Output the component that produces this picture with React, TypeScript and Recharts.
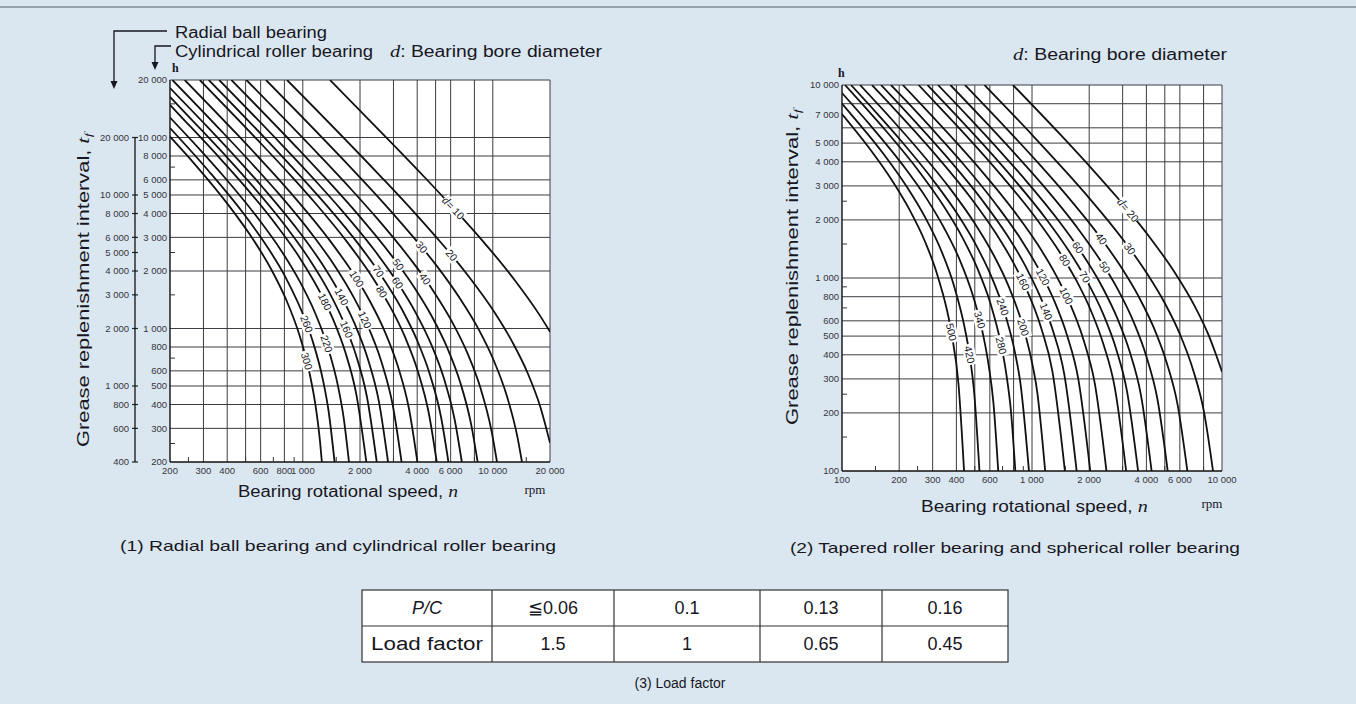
import React from 'react';
import { LineChart, Line, XAxis, YAxis, CartesianGrid, ReferenceDot } from 'recharts';

const FONT = '"Liberation Sans", Arial, Helvetica, sans-serif';
const SERIF = '"Liberation Serif", "Times New Roman", serif';
const INK = '#17171f';
const BG = '#dbe7f0';

// (1) radial ball bearing and cylindrical roller bearing
// points are [rpm, hours read on the cylindrical roller scale]
const ballBore = [10, 20, 30, 40, 50, 60, 70, 80, 100, 120, 140, 160, 180, 220, 260, 300];
const ballCurves = [
  [[1390, 20000], [3000, 9150], [4350, 6230], [6200, 4270], [8700, 2930], [13050, 1790], [17400, 1200], [20000, 962]],
  [[826, 20000], [2545, 6320], [3817, 4100], [5090, 2970], [6075, 2420], [7630, 1820], [10180, 1220], [12720, 844], [15270, 583], [17810, 387], [20000, 252]],
  [[640, 20000], [1680, 7430], [2522, 4816], [3360, 3490], [4224, 2670], [5045, 2140], [6730, 1430], [8410, 992], [10090, 684], [11770, 454], [13450, 273], [14240, 200]],
  [[505, 20000], [1227, 8040], [1841, 5215], [2454, 3780], [3682, 2310], [4400, 1820], [4909, 1550], [6136, 1074], [7363, 741], [8590, 492], [9818, 295], [10520, 200]],
  [[421, 20000], [962, 8550], [1443, 5546], [1924, 4020], [2886, 2460], [3180, 2165], [3848, 1650], [4811, 1142], [5773, 788], [6735, 523], [7697, 314], [8320, 200]],
  [[363, 20000], [789, 8990], [1184, 5829], [1578, 4230], [2367, 2590], [3156, 1734], [3945, 1200], [4734, 828], [5523, 550], [6312, 330], [6870, 200]],
  [[320, 20000], [667, 9380], [1000, 6083], [1334, 4410], [2001, 2700], [2500, 1990], [3335, 1253], [4002, 864], [4669, 573], [5336, 345], [5840, 200]],
  [[287, 20000], [576, 9740], [865, 6317], [1153, 4580], [1729, 2800], [2305, 1880], [2600, 1554], [2882, 1301], [3458, 898], [4034, 596], [4610, 358], [5070, 200]],
  [[239, 20000], [453, 10340], [679, 6703], [905, 4860], [1358, 2970], [1921, 1820], [2263, 1380], [2716, 952], [3168, 632], [3621, 380], [4010, 200]],
  [[206, 20000], [371, 10870], [557, 7046], [743, 5110], [1114, 3130], [1486, 2100], [1857, 1451], [2125, 1112], [2600, 664], [2971, 399], [3310, 200]],
  [[200, 18160], [314, 11400], [471, 7390], [627, 5360], [941, 3280], [1255, 2200], [1601, 1465], [1882, 1050], [2196, 697], [2510, 419], [2810, 200]],
  [[200, 16300], [272, 11820], [409, 7664], [545, 5560], [818, 3400], [1090, 2280], [1363, 1578], [1702, 990], [1908, 722], [2180, 434], [2450, 200]],
  [[200, 14800], [239, 12270], [359, 7955], [479, 5770], [718, 3530], [957, 2370], [1309, 1379], [1436, 1130], [1675, 750], [1914, 451], [2160, 200]],
  [[200, 12720], [289, 8590], [385, 6230], [577, 3810], [770, 2555], [962, 1769], [1155, 1220], [1336, 831], [1540, 487], [1636, 348], [1750, 200]],
  [[200, 11210], [321, 6640], [482, 4060], [643, 2720], [804, 1886], [1049, 1056], [1125, 864], [1286, 519], [1366, 371], [1470, 200]],
  [[200, 10100], [274, 7130], [411, 4360], [548, 2925], [685, 2025], [822, 1397], [959, 927], [1049, 675], [1096, 557], [1165, 399], [1233, 254], [1260, 200]],
];
// where each d label sits on its curve [rpm, hours]
const ballTagAt = [
  [6200, 4270], [6075, 2420], [4224, 2670], [4400, 1820], [3180, 2165], [3156, 1734],
  [2500, 1990], [2600, 1554], [1921, 1820], [2125, 1112], [1601, 1465], [1702, 990],
  [1309, 1379], [1336, 831], [1049, 1056], [1049, 675],
];
const ballTagAngle = [46, 50, 51, 55, 54, 57, 55, 59, 58, 65, 62, 67, 64, 71, 69, 74];

const ballRpmTicks = [200, 250, 300, 400, 500, 600, 700, 800, 900, 1000, 1500, 2000, 3000, 4000, 5000, 6000, 8000, 10000, 15000, 20000];
const ballRpmLabels = [200, 300, 400, 600, 800, 1000, 2000, 4000, 6000, 10000, 20000];
const ballRpmGrid = [300, 400, 500, 600, 800, 1000, 2000, 3000, 4000, 5000, 6000, 8000, 10000, 20000];
const rollerHourTicks = [200, 250, 300, 400, 500, 600, 700, 800, 1000, 1500, 2000, 2500, 3000, 4000, 5000, 6000, 7000, 8000, 10000, 15000, 20000];
const rollerHourLabels = [200, 300, 400, 500, 600, 800, 1000, 2000, 3000, 4000, 5000, 6000, 8000, 10000, 20000];
const ballHourLabels = [400, 600, 800, 1000, 2000, 3000, 4000, 5000, 6000, 8000, 10000, 20000];
const ballHourGrid = [300, 400, 500, 600, 800, 1000, 2000, 3000, 4000, 5000, 6000, 8000, 10000, 20000];

// (2) tapered roller bearing and spherical roller bearing
const taperBore = [20, 30, 40, 50, 60, 70, 80, 100, 120, 140, 160, 200, 240, 280, 340, 420, 500];
const taperCurves = [
  [[794, 10000], [1416, 5510], [2123, 3571], [2831, 2590], [3200, 2246], [4247, 1584], [5662, 1062], [7078, 735], [8494, 507], [10000, 327]],
  [[562, 10000], [1006, 5490], [1508, 3558], [2011, 2580], [3017, 1579], [3270, 1419], [4022, 1058], [5028, 733], [6033, 506], [7039, 335], [8044, 202], [8970, 100]],
  [[444, 10000], [730, 5980], [1095, 3877], [1460, 2810], [2317, 1597], [2920, 1153], [3651, 798], [4381, 551], [5111, 365], [5841, 220], [6572, 100]],
  [[372, 10000], [571, 6420], [857, 4161], [1143, 3020], [1714, 1846], [2413, 1139], [2857, 857], [3428, 591], [4000, 392], [4571, 236], [5180, 100]],
  [[320, 10000], [468, 6750], [702, 4373], [936, 3170], [1404, 1940], [1746, 1441], [2340, 901], [2807, 621], [3275, 412], [3743, 248], [4262, 100]],
  [[282, 10000], [396, 7030], [594, 4559], [791, 3305], [1187, 2023], [1583, 1356], [1894, 1014], [2374, 648], [2770, 430], [3165, 258], [3617, 100]],
  [[253, 10000], [341, 7320], [512, 4746], [682, 3440], [1024, 2106], [1486, 1237], [1706, 977], [2047, 674], [2388, 447], [2730, 269], [3130, 100]],
  [[209, 10000], [267, 7750], [401, 5027], [535, 3645], [802, 2230], [1070, 1495], [1337, 1035], [1515, 810], [1872, 474], [2139, 285], [2465, 100]],
  [[181, 10000], [219, 8215], [328, 5327], [438, 3862], [656, 2363], [875, 1584], [1142, 1012], [1313, 757], [1532, 502], [1750, 302], [2026, 100]],
  [[160.5, 10000], [185, 8626], [277, 5593], [370, 4056], [555, 2482], [740, 1664], [924, 1152], [1189, 671], [1294, 527], [1479, 317], [1718, 100]],
  [[143.8, 10000], [160, 8947], [240, 5801], [320, 4206], [480, 2574], [640, 1725], [800, 1195], [897, 956], [1120, 547], [1280, 329], [1490, 100]],
  [[124.4, 10000], [187.5, 6450], [250, 4676], [375, 2861], [500, 1918], [625, 1328], [750, 916], [900, 555], [1000, 365], [1063, 261], [1173, 100]],
  [[111.5, 10000], [153, 7110], [204, 5155], [306, 3154], [409, 2115], [511, 1464], [613, 1010], [703, 707], [817, 403], [868, 288], [964, 100]],
  [[103.7, 10000], [129, 7893], [172, 5723], [258, 3502], [344, 2348], [430, 1625], [516, 1121], [603, 744], [689, 447], [732, 320], [775, 204], [817, 100]],
  [[100, 9090], [139, 6284], [209, 3845], [279, 2578], [348, 1784], [418, 1231], [487.5, 817], [531, 606], [557, 491], [592, 351], [627, 224], [664, 100]],
  [[100, 8020], [110, 7170], [165.5, 4387], [220.6, 2941], [275.8, 2036], [331, 1405], [386, 932], [441, 560], [469, 401], [496, 256], [529, 100]],
  [[100, 7074], [136.8, 4811], [182.4, 3225], [228, 2233], [273.7, 1541], [319, 1022], [376, 525], [410.5, 280.5], [439, 100]],
];
const taperTagAt = [
  [3200, 2246], [3270, 1419], [2317, 1597], [2413, 1139], [1746, 1441], [1894, 1014],
  [1486, 1237], [1515, 810], [1142, 1012], [1189, 671], [897, 956], [900, 555],
  [703, 707], [689, 447], [531, 606], [469, 401], [376, 525],
];
const taperTagAngle = [50, 54, 54, 58, 56, 60, 58, 64, 62, 68, 64, 72, 70, 76, 74, 78, 77];

const taperRpmTicks = [100, 150, 200, 250, 300, 400, 500, 600, 700, 800, 900, 1000, 1500, 2000, 3000, 4000, 5000, 6000, 8000, 10000];
const taperRpmLabels = [100, 200, 300, 400, 600, 1000, 2000, 4000, 6000, 10000];
const taperRpmGrid = [200, 300, 400, 500, 600, 800, 1000, 2000, 3000, 4000, 5000, 6000, 8000, 10000];
const taperHourTicks = [100, 150, 200, 250, 300, 400, 500, 600, 700, 800, 900, 1000, 1500, 2000, 2500, 3000, 4000, 5000, 7000, 10000];
const taperHourLabels = [100, 200, 300, 400, 500, 600, 800, 1000, 2000, 3000, 4000, 5000, 7000, 10000];
const taperHourGrid = [200, 300, 400, 500, 600, 800, 1000, 2000, 3000, 4000, 5000, 6000, 8000, 10000];

// (3) load factor
const pcValues = ['≦0.06', '0.1', '0.13', '0.16'];
const loadFactors = ['1.5', '1', '0.65', '0.45'];

const fmt = (v: number) =>
  v >= 1000 ? `${Math.floor(v / 1000)} ${String(v % 1000).padStart(3, '0')}` : String(v);

function RpmTick(props: any) {
  const { x, y, payload, labels } = props;
  const v = payload.value;
  if (labels.includes(v)) {
    return (
      <text x={x} y={y} dy="0.71em" textAnchor="middle" fontSize={9.5} fill="#34343c" fontFamily={FONT}>
        {fmt(v)}
      </text>
    );
  }
  return <line x1={x} x2={x} y1={y - 5} y2={y - 10} stroke="#333" strokeWidth={1} />;
}

function HourTick(props: any) {
  const { x, y, payload, labels, cross } = props;
  const v = payload.value;
  const on = labels.includes(v);
  return (
    <g>
      {on && (
        <text x={x} y={y} dy="0.35em" textAnchor="end" fontSize={9.5} fill="#34343c" fontFamily={FONT}>
          {fmt(v)}
        </text>
      )}
      {!on && !cross && <line x1={x + 3} x2={x + 8} y1={y} y2={y} stroke="#333" />}
      {cross && <line x1={x + 3} x2={x + 9} y1={y} y2={y} stroke="#222" strokeWidth={1.2} />}
    </g>
  );
}

function CurveTag(props: any) {
  const { cx, cy, d, angle, first } = props;
  if (cx == null || cy == null) return null;
  const txt = String(d);
  const w = (first ? txt.length + 2 : txt.length) * 6 + 3;
  return (
    <g transform={`translate(${cx},${cy}) rotate(${angle})`}>
      <rect x={-w / 2} y={-6} width={w} height={12} fill="#fff" />
      <text textAnchor="middle" dy="0.36em" fontSize={10.5} fill={INK} fontFamily={FONT}>
        {first && <tspan fontStyle="italic" fontFamily={SERIF} fontSize={12}>d</tspan>}
        {first ? `= ${txt}` : txt}
      </text>
    </g>
  );
}

const rows = (pts: number[][]) => pts.map(([n, t]) => ({ n, t }));
const axisStroke = { stroke: '#111', strokeWidth: 1.4 };

function BallChart() {
  return (
    <LineChart width={600} height={500} margin={{ top: 80, right: 50, bottom: 0, left: 60 }}>
      <CartesianGrid
        yAxisId="in"
        fill="#fff"
        stroke="#3c3c44"
        strokeWidth={1}
        horizontalValues={ballHourGrid}
        verticalValues={ballRpmGrid}
      />
      <XAxis
        dataKey="n"
        type="number"
        scale="log"
        domain={[200, 20000]}
        allowDataOverflow
        ticks={ballRpmTicks}
        interval={0}
        tick={<RpmTick labels={ballRpmLabels} />}
        tickLine={false}
        tickSize={0}
        tickMargin={5}
        axisLine={axisStroke}
        height={38}
      />
      <YAxis
        yAxisId="in"
        type="number"
        scale="log"
        domain={[200, 20000]}
        allowDataOverflow
        ticks={rollerHourTicks}
        interval={0}
        tick={<HourTick labels={rollerHourLabels} />}
        tickLine={false}
        tickSize={0}
        tickMargin={3}
        axisLine={axisStroke}
        width={35}
      />
      <YAxis
        yAxisId="out"
        type="number"
        scale="log"
        domain={[400, 40000]}
        allowDataOverflow
        ticks={ballHourLabels}
        interval={0}
        tick={<HourTick labels={ballHourLabels} cross />}
        tickLine={false}
        tickSize={0}
        tickMargin={6}
        axisLine={false}
        width={75}
      />
      {ballCurves.map((pts, i) => (
        <Line
          key={ballBore[i]}
          yAxisId="in"
          data={rows(pts)}
          dataKey="t"
          type="monotone"
          stroke="#111"
          strokeWidth={1.8}
          dot={false}
          isAnimationActive={false}
        />
      ))}
      {ballTagAt.map(([n, t], i) => (
        <ReferenceDot
          key={'tag' + i}
          yAxisId="in"
          x={n}
          y={t}
          r={0}
          ifOverflow="visible"
          zIndex={2000}
          shape={(p: any) => <CurveTag {...p} d={ballBore[i]} angle={ballTagAngle[i]} first={i === 0} />}
        />
      ))}
    </LineChart>
  );
}

function TaperChart() {
  return (
    <LineChart width={560} height={510} margin={{ top: 85, right: 38, bottom: 0, left: 102 }}>
      <CartesianGrid
        fill="#fff"
        stroke="#3c3c44"
        strokeWidth={1}
        horizontalValues={taperHourGrid}
        verticalValues={taperRpmGrid}
      />
      <XAxis
        dataKey="n"
        type="number"
        scale="log"
        domain={[100, 10000]}
        allowDataOverflow
        ticks={taperRpmTicks}
        interval={0}
        tick={<RpmTick labels={taperRpmLabels} />}
        tickLine={false}
        tickSize={0}
        tickMargin={5}
        axisLine={axisStroke}
        height={39}
      />
      <YAxis
        type="number"
        scale="log"
        domain={[100, 10000]}
        allowDataOverflow
        ticks={taperHourTicks}
        interval={0}
        tick={<HourTick labels={taperHourLabels} />}
        tickLine={false}
        tickSize={0}
        tickMargin={3}
        axisLine={axisStroke}
        width={40}
      />
      {taperCurves.map((pts, i) => (
        <Line
          key={taperBore[i]}
          data={rows(pts)}
          dataKey="t"
          type="monotone"
          stroke="#111"
          strokeWidth={1.8}
          dot={false}
          isAnimationActive={false}
        />
      ))}
      {taperTagAt.map(([n, t], i) => (
        <ReferenceDot
          key={'tag' + i}
          x={n}
          y={t}
          r={0}
          ifOverflow="visible"
          zIndex={2000}
          shape={(p: any) => <CurveTag {...p} d={taperBore[i]} angle={taperTagAngle[i]} first={i === 0} />}
        />
      ))}
    </LineChart>
  );
}

const serifItalic = { fontStyle: 'italic', fontFamily: SERIF } as const;

function Decor() {
  const colX = [362, 492, 614, 760, 882, 1008];
  return (
    <svg width={1356} height={704} style={{ position: 'absolute', left: 0, top: 0, pointerEvents: 'none' }}
      fontFamily={FONT} fill={INK}>
      <line x1={0} x2={1356} y1={7} y2={7} stroke="#7f8b96" strokeWidth={1.5} />
      {/* scale arrows */}
      <polyline points="167,31 114,31 114,82" fill="none" stroke={INK} strokeWidth={1.3} />
      <path d="M110.5,81 L117.5,81 L114,89 Z" fill={INK} />
      <polyline points="171,46 155,46 155,63" fill="none" stroke={INK} strokeWidth={1.3} />
      <path d="M151.5,62 L158.5,62 L155,70 Z" fill={INK} />
      <line x1={135} x2={135} y1={137.5} y2={462} stroke="#111" strokeWidth={1.3} />

      <text x={175} y={38} fontSize={16} textLength={152} lengthAdjust="spacingAndGlyphs">Radial ball bearing</text>
      <text x={175} y={57} fontSize={16} textLength={198} lengthAdjust="spacingAndGlyphs">Cylindrical roller bearing</text>
      <text x={390} y={57} fontSize={16} textLength={212} lengthAdjust="spacingAndGlyphs">
        <tspan {...serifItalic} fontSize={17}>d</tspan>: Bearing bore diameter
      </text>
      <text x={1013} y={60} fontSize={16} textLength={214} lengthAdjust="spacingAndGlyphs">
        <tspan {...serifItalic} fontSize={17}>d</tspan>: Bearing bore diameter
      </text>
      <text x={172} y={72} fontSize={12} fontWeight="bold" fontFamily={SERIF}>h</text>
      <text x={838} y={77} fontSize={12} fontWeight="bold" fontFamily={SERIF}>h</text>

      <text transform="translate(89,290) rotate(-90)" textAnchor="middle" fontSize={16} textLength={314} lengthAdjust="spacingAndGlyphs">
        Grease replenishment interval, <tspan {...serifItalic} fontSize={17}>t</tspan>
        <tspan {...serifItalic} fontSize={11} dy={3}>f</tspan>
      </text>
      <text transform="translate(798,267) rotate(-90)" textAnchor="middle" fontSize={16} textLength={316} lengthAdjust="spacingAndGlyphs">
        Grease replenishment interval, <tspan {...serifItalic} fontSize={17}>t</tspan>
        <tspan {...serifItalic} fontSize={11} dy={3}>f</tspan>
      </text>

      <text x={238} y={497} fontSize={16} textLength={220} lengthAdjust="spacingAndGlyphs">
        Bearing rotational speed, <tspan {...serifItalic} fontSize={17}>n</tspan>
      </text>
      <text x={921} y={512} fontSize={16} textLength={227} lengthAdjust="spacingAndGlyphs">
        Bearing rotational speed, <tspan {...serifItalic} fontSize={17}>n</tspan>
      </text>
      <text x={535} y={494} fontSize={13} textAnchor="middle" fontFamily={SERIF}>rpm</text>
      <text x={1212} y={508} fontSize={13} textAnchor="middle" fontFamily={SERIF}>rpm</text>

      <text x={120} y={551} fontSize={15} textLength={436} lengthAdjust="spacingAndGlyphs">
        (1) Radial ball bearing and cylindrical roller bearing
      </text>
      <text x={790} y={553} fontSize={15} textLength={450} lengthAdjust="spacingAndGlyphs">
        (2) Tapered roller bearing and spherical roller bearing
      </text>

      <rect x={362} y={590} width={646} height={72} fill="#fff" stroke="#333" strokeWidth={1.2} />
      <line x1={362} x2={1008} y1={626} y2={626} stroke="#333" strokeWidth={1.2} />
      {colX.slice(1, 5).map((x) => (
        <line key={x} x1={x} x2={x} y1={590} y2={662} stroke="#333" strokeWidth={1.2} />
      ))}
      <text x={(colX[0] + colX[1]) / 2} y={614} fontSize={18} textAnchor="middle" fontStyle="italic">P/C</text>
      <text x={(colX[0] + colX[1]) / 2} y={650} fontSize={18} textAnchor="middle" textLength={112} lengthAdjust="spacingAndGlyphs">Load factor</text>
      {pcValues.map((v, i) => (
        <text key={'pc' + i} x={(colX[i + 1] + colX[i + 2]) / 2} y={614} fontSize={18} textAnchor="middle">{v}</text>
      ))}
      {loadFactors.map((v, i) => (
        <text key={'lf' + i} x={(colX[i + 1] + colX[i + 2]) / 2} y={650} fontSize={18} textAnchor="middle">{v}</text>
      ))}
      <text x={680} y={688} fontSize={14} textAnchor="middle">(3) Load factor</text>
    </svg>
  );
}

export default function App() {
  return (
    <div style={{ position: 'absolute', left: 0, top: 0, width: 1356, height: 704, background: BG, overflow: 'hidden' }}>
      <div style={{ position: 'absolute', left: 0, top: 0 }}>
        <BallChart />
      </div>
      <div style={{ position: 'absolute', left: 700, top: 0 }}>
        <TaperChart />
      </div>
      <Decor />
    </div>
  );
}
